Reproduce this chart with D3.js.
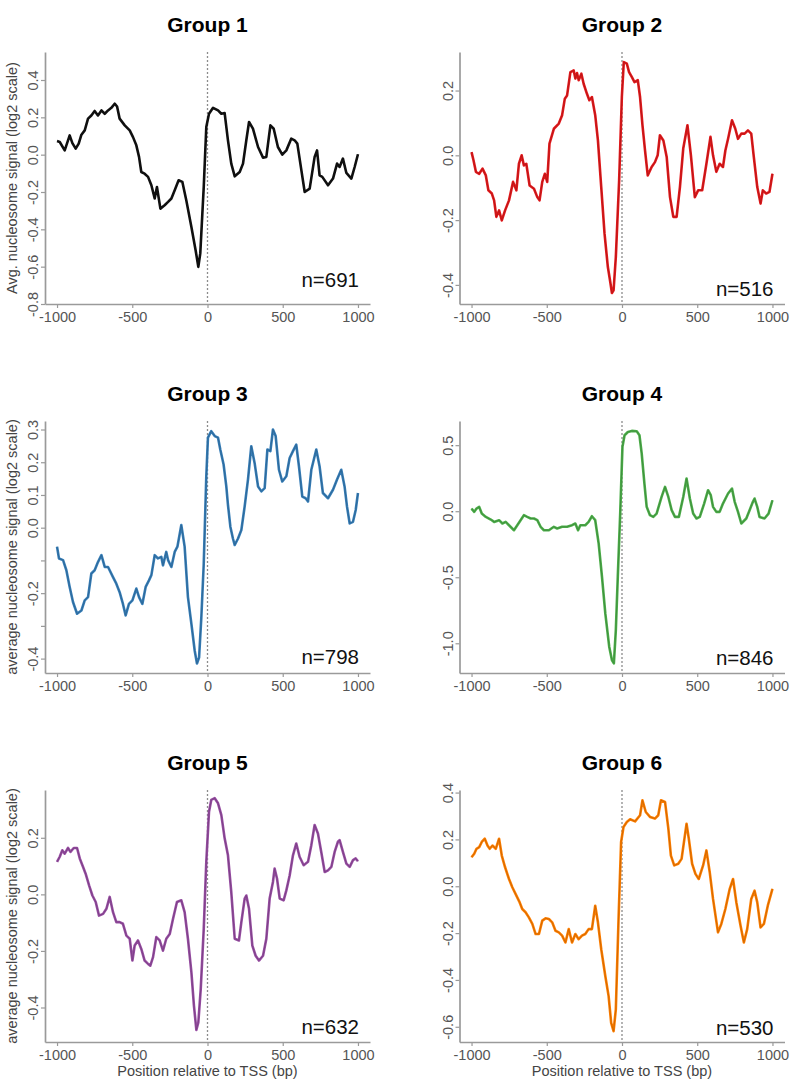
<!DOCTYPE html>
<html><head><meta charset="utf-8">
<script src="https://cdn.jsdelivr.net/npm/d3@7"></script>
<style>body{margin:0;background:#fff} svg{display:block}</style>
</head><body><svg id="c" width="812" height="1082"></svg>
<script>
// ---------------- DATA ----------------
const groupNames = ["Group 1","Group 2","Group 3","Group 4","Group 5","Group 6"];
const groupN = [691, 516, 798, 846, 632, 530];
const groupColors = ["#111111","#e41a1c","#377eb8","#4daf4a","#984ea3","#ff7f00"];
const xTicks = [-1000, -500, 0, 500, 1000];
const xDomain = [-1080, 1080];

const g1x = [-1000,-982,-949,-916,-898,-876,-856,-838,-816,-794,-772,-750,-728,-705,-683,-661,-639,-617,-601,-584,-550,-517,-495,-473,-455,-440,-418,-395,-373,-351,-336,-313,-285,-262,-240,-218,-192,-167,-141,-107,-79,-61,-48,-25,-8,10,37,70,92,114,136,158,181,214,236,258,276,302,336,369,391,418,440,468,497,524,557,579,597,624,646,679,712,728,745,763,801,834,861,878,900,923,956,978,1000];
const g1y = [0.073,0.068,0.023,0.103,0.062,0.032,0.059,0.107,0.130,0.193,0.210,0.234,0.210,0.237,0.219,0.237,0.251,0.273,0.258,0.193,0.157,0.130,0.094,0.050,-0.012,-0.093,-0.102,-0.119,-0.164,-0.235,-0.173,-0.289,-0.271,-0.253,-0.235,-0.191,-0.137,-0.146,-0.244,-0.387,-0.512,-0.601,-0.529,-0.173,0.148,0.219,0.251,0.237,0.219,0.223,0.077,-0.048,-0.116,-0.093,-0.048,0.077,0.175,0.139,0.041,-0.016,-0.012,0.157,0.139,0.041,0.000,0.023,0.086,0.077,0.059,-0.084,-0.200,-0.182,-0.012,0.023,-0.111,-0.119,-0.164,-0.128,-0.048,-0.066,-0.021,-0.098,-0.128,-0.066,0.002];

const g2x = [-1000,-987,-971,-949,-927,-905,-888,-865,-850,-835,-817,-799,-777,-751,-724,-702,-685,-667,-652,-636,-614,-585,-563,-548,-530,-513,-497,-482,-453,-420,-398,-380,-365,-343,-321,-310,-299,-288,-270,-255,-233,-217,-200,-178,-160,-138,-116,-94,-78,-67,-56,-41,-19,-1,12,32,47,65,83,105,120,136,153,171,197,219,237,252,275,297,319,341,363,385,407,435,458,484,506,533,561,588,605,627,649,671,687,705,731,753,771,793,815,837,859,876,899,921,936,958,980,1000];
const g2y = [0.010,-0.015,-0.051,-0.057,-0.041,-0.062,-0.108,-0.118,-0.139,-0.190,-0.170,-0.201,-0.170,-0.139,-0.082,-0.108,-0.026,0.000,-0.031,-0.026,-0.093,-0.103,-0.129,-0.139,-0.082,-0.057,-0.082,0.036,0.082,0.098,0.124,0.175,0.185,0.257,0.262,0.237,0.254,0.232,0.252,0.221,0.190,0.170,0.180,0.124,0.046,-0.098,-0.242,-0.345,-0.391,-0.425,-0.417,-0.314,-0.077,0.180,0.288,0.283,0.257,0.242,0.226,0.232,0.180,0.093,0.015,-0.062,-0.036,-0.021,0.000,0.062,0.046,-0.005,-0.129,-0.190,-0.190,-0.098,0.021,0.093,0.000,-0.129,-0.108,-0.108,-0.026,0.057,0.000,-0.051,-0.026,-0.036,0.015,0.051,0.108,0.082,0.051,0.067,0.067,0.077,0.067,-0.005,-0.098,-0.149,-0.108,-0.118,-0.113,-0.057];

const g3x = [-1000,-987,-960,-938,-916,-894,-867,-838,-816,-794,-772,-750,-728,-705,-683,-661,-628,-606,-584,-562,-544,-522,-499,-473,-455,-433,-411,-389,-373,-351,-329,-307,-296,-274,-262,-240,-218,-200,-174,-152,-130,-107,-85,-70,-56,-41,-25,-8,3,25,48,70,85,107,125,136,152,169,181,203,225,247,269,291,313,336,358,380,398,418,435,453,475,497,524,546,568,590,608,630,652,668,690,723,745,767,801,834,861,889,911,927,945,967,985,1000];
const g3y = [-0.058,-0.094,-0.099,-0.130,-0.181,-0.227,-0.263,-0.253,-0.222,-0.212,-0.140,-0.130,-0.105,-0.084,-0.120,-0.120,-0.151,-0.171,-0.197,-0.233,-0.268,-0.233,-0.222,-0.186,-0.212,-0.233,-0.181,-0.161,-0.145,-0.084,-0.094,-0.089,-0.115,-0.074,-0.099,-0.120,-0.074,-0.058,0.008,-0.058,-0.212,-0.294,-0.376,-0.415,-0.397,-0.274,-0.110,0.157,0.275,0.295,0.280,0.275,0.239,0.193,0.126,0.070,0.003,-0.033,-0.053,-0.033,-0.007,0.065,0.147,0.249,0.198,0.126,0.111,0.121,0.239,0.234,0.300,0.280,0.177,0.141,0.157,0.213,0.234,0.254,0.187,0.095,0.090,0.080,0.177,0.239,0.187,0.106,0.090,0.116,0.147,0.177,0.126,0.065,0.013,0.018,0.054,0.106];

const g4x = [-1000,-982,-967,-949,-932,-905,-872,-850,-817,-795,-773,-751,-718,-696,-674,-652,-630,-607,-585,-563,-541,-519,-486,-453,-431,-398,-365,-332,-310,-292,-277,-244,-222,-200,-178,-155,-133,-111,-85,-67,-54,-41,-28,-12,3,17,39,65,98,116,131,149,164,186,208,230,263,286,308,330,352,378,407,429,451,473,495,517,546,572,590,605,627,649,671,705,731,749,771,793,826,848,870,881,899,914,947,974,1000];
const g4y = [0.020,-0.005,0.020,0.033,-0.018,-0.043,-0.063,-0.081,-0.068,-0.093,-0.081,-0.106,-0.144,-0.106,-0.068,-0.030,-0.043,-0.055,-0.055,-0.068,-0.118,-0.144,-0.144,-0.118,-0.131,-0.118,-0.118,-0.106,-0.093,-0.144,-0.106,-0.106,-0.081,-0.038,-0.068,-0.245,-0.497,-0.774,-1.026,-1.127,-1.152,-0.900,-0.497,-0.018,0.487,0.575,0.600,0.608,0.605,0.575,0.436,0.209,0.033,-0.030,-0.043,-0.018,0.108,0.184,0.108,0.008,-0.043,-0.043,0.108,0.247,0.096,-0.018,-0.055,-0.043,0.058,0.159,0.121,0.033,-0.005,-0.005,0.058,0.134,0.171,0.071,-0.005,-0.093,-0.055,0.008,0.071,0.096,0.033,-0.043,-0.055,-0.018,0.083];

const g5x = [-1000,-982,-965,-949,-927,-911,-889,-867,-849,-827,-810,-787,-765,-743,-721,-694,-672,-650,-628,-606,-584,-562,-539,-517,-499,-484,-462,-440,-418,-395,-380,-362,-340,-318,-296,-274,-251,-229,-203,-174,-152,-130,-107,-90,-74,-61,-45,-25,-8,10,25,48,70,92,114,136,158,181,209,225,247,258,276,298,320,342,369,391,413,435,446,462,480,506,524,546,568,590,612,639,668,690,712,734,756,779,801,823,845,867,878,900,923,945,967,985,1000];
const g5y = [0.115,0.133,0.156,0.144,0.164,0.150,0.164,0.164,0.127,0.097,0.073,0.032,-0.004,-0.027,-0.075,-0.069,-0.051,-0.009,-0.063,-0.098,-0.098,-0.104,-0.146,-0.157,-0.234,-0.181,-0.163,-0.193,-0.234,-0.246,-0.252,-0.222,-0.151,-0.163,-0.199,-0.157,-0.140,-0.086,-0.027,-0.021,-0.063,-0.157,-0.276,-0.394,-0.479,-0.453,-0.335,-0.122,0.115,0.292,0.334,0.340,0.322,0.280,0.198,0.138,0.008,-0.157,-0.163,-0.098,-0.015,-0.004,-0.051,-0.181,-0.217,-0.234,-0.217,-0.157,-0.015,0.044,0.091,0.056,-0.015,-0.021,0.014,0.067,0.138,0.180,0.133,0.103,0.115,0.174,0.245,0.215,0.150,0.079,0.085,0.097,0.150,0.186,0.192,0.150,0.109,0.097,0.121,0.127,0.117];

const g6x = [-1000,-982,-967,-949,-932,-912,-894,-879,-861,-839,-817,-799,-777,-751,-729,-702,-680,-663,-641,-619,-596,-574,-552,-530,-508,-486,-464,-442,-420,-398,-376,-354,-332,-310,-288,-266,-244,-222,-200,-178,-160,-138,-111,-89,-72,-56,-41,-23,-6,10,32,54,87,120,136,158,186,219,241,259,286,308,325,347,374,396,418,429,444,466,488,510,539,561,583,605,638,660,687,716,738,760,788,810,832,859,881,899,921,943,969,1000];
const g6y = [0.124,0.139,0.160,0.167,0.189,0.203,0.174,0.160,0.174,0.160,0.203,0.131,0.081,0.031,-0.004,-0.040,-0.069,-0.097,-0.111,-0.133,-0.161,-0.204,-0.204,-0.147,-0.137,-0.140,-0.154,-0.190,-0.197,-0.211,-0.240,-0.183,-0.240,-0.204,-0.226,-0.211,-0.204,-0.183,-0.183,-0.083,-0.154,-0.269,-0.383,-0.469,-0.583,-0.619,-0.526,-0.140,0.189,0.253,0.274,0.286,0.277,0.303,0.367,0.317,0.296,0.289,0.303,0.367,0.360,0.246,0.131,0.089,0.096,0.117,0.217,0.267,0.203,0.096,0.053,0.031,0.089,0.153,0.060,-0.054,-0.197,-0.161,-0.097,-0.011,0.031,-0.069,-0.169,-0.240,-0.183,-0.054,-0.019,-0.069,-0.176,-0.161,-0.083,-0.011];

const seriesX = [g1x, g2x, g3x, g4x, g5x, g6x];
const seriesY = [g1y, g2y, g3y, g4y, g5y, g6y];

const yDomains = [[-0.80,0.55],[-0.459,0.319],[-0.444,0.326],[-1.225,0.683],[-0.522,0.369],[-0.665,0.411]];
const yTicks = [
  [-0.8,-0.6,-0.4,-0.2,0.0,0.2,0.4],
  [-0.4,-0.2,0.0,0.2],
  [-0.4,-0.3,-0.2,-0.1,0.0,0.1,0.2,0.3],
  [-1.0,-0.5,0.0,0.5],
  [-0.4,-0.2,0.0,0.2],
  [-0.6,-0.4,-0.2,0.0,0.2,0.4]
];
const yTickLabels = [
  ["-0.8","-0.6","-0.4","-0.2","0.0","0.2","0.4"],
  ["-0.4","-0.2","0.0","0.2"],
  ["-0.4","","-0.2","","0.0","0.1","0.2","0.3"],
  ["-1.0","-0.5","0.0","0.5"],
  ["-0.4","-0.2","0.0","0.2"],
  ["-0.6","-0.4","-0.2","0.0","0.2","0.4"]
];
const yLabels = ["Avg. nucleosome signal (log2 scale)","","average nucleosome signal (log2 scale)","","average nucleosome signal (log2 scale)",""];
const xLabels = ["","","","","Position relative to TSS (bp)","Position relative to TSS (bp)"];

// ---------------- LAYOUT / STYLE ----------------
const colLeft = [45, 459.5];
const rowTop = [52, 421, 790];
const PW = 325, PH = 252;
const nOffset = [17, 8, 9, 8, 8, 7];
const FONT = "'Liberation Sans', Arial, Helvetica, sans-serif";
const axisColor = "#9a9a9a";
const tickTextColor = "#555";

const svg = d3.select("#c");

groupNames.forEach((name, i) => {
  const col = i % 2, row = Math.floor(i / 2);
  const left = colLeft[col], top = rowTop[row];
  const x = d3.scaleLinear().domain(xDomain).range([left, left + PW]);
  const y = d3.scaleLinear().domain(yDomains[i]).range([top + PH, top]);
  const g = svg.append("g");

  // bottom axis
  const ax = g.append("g").attr("transform", `translate(0,${top + PH})`)
    .call(d3.axisBottom(x).tickValues(xTicks).tickSize(4).tickSizeOuter(0).tickFormat(d => String(d)));
  ax.select(".domain").attr("stroke", axisColor).attr("stroke-width", 1.7);
  ax.selectAll(".tick line").attr("stroke", axisColor).attr("stroke-width", 1.2);
  ax.selectAll(".tick text").attr("y", 17.5).attr("dy", null)
    .attr("fill", tickTextColor).style("font-family", FONT).style("font-size", "14.5px");

  // left axis
  const labels = yTickLabels[i];
  const ay = g.append("g").attr("transform", `translate(${left},0)`)
    .call(d3.axisLeft(y).tickValues(yTicks[i]).tickSize(4).tickSizeOuter(0)
      .tickFormat((d, k) => labels[k]));
  ay.select(".domain").attr("stroke", axisColor).attr("stroke-width", 1.7);
  ay.selectAll(".tick line").attr("stroke", axisColor).attr("stroke-width", 1.2);
  ay.selectAll(".tick text").attr("x", null).attr("dy", null)
    .attr("transform", "translate(-7,0) rotate(-90)")
    .attr("text-anchor", "middle")
    .attr("fill", tickTextColor).style("font-family", FONT).style("font-size", "14.5px");

  // zero dotted line
  g.append("line")
    .attr("x1", x(0)).attr("x2", x(0))
    .attr("y1", top).attr("y2", top + PH)
    .attr("stroke", "#8c8c8c").attr("stroke-width", 1.3)
    .attr("stroke-dasharray", "2,2");

  // series line
  const pts = seriesX[i].map((v, k) => [v, seriesY[i][k]]);
  const line = d3.line().x(d => x(d[0])).y(d => y(d[1]));
  const c = d3.color(groupColors[i]);
  g.append("path").datum(pts).attr("d", line)
    .attr("fill", "none").attr("stroke", c.formatHex()).attr("stroke-width", 2.6)
    .attr("stroke-linejoin", "round");
  g.append("path").datum(pts).attr("d", line)
    .attr("fill", "none").attr("stroke", c.darker(0.6).formatHex()).attr("stroke-width", 0.9)
    .attr("stroke-linejoin", "round");

  // title
  g.append("text").attr("x", x(0)).attr("y", top - 20)
    .attr("text-anchor", "middle").attr("fill", "#000")
    .style("font-family", FONT).style("font-size", "21px").style("font-weight", "bold")
    .text(name);

  // n label
  g.append("text").attr("x", x(1000) + 1).attr("y", top + PH - nOffset[i])
    .attr("text-anchor", "end").attr("fill", "#111")
    .style("font-family", FONT).style("font-size", "20.5px")
    .text("n=" + groupN[i]);

  // y label
  if (yLabels[i]) {
    g.append("text")
      .attr("transform", `translate(${left - 28},${top + PH / 2}) rotate(-90)`)
      .attr("text-anchor", "middle").attr("fill", "#444")
      .style("font-family", FONT).style("font-size", "14.5px")
      .text(yLabels[i]);
  }
  // x label
  if (xLabels[i]) {
    g.append("text").attr("x", x(0)).attr("y", top + PH + 34)
      .attr("text-anchor", "middle").attr("fill", "#444")
      .style("font-family", FONT).style("font-size", "14.5px")
      .text(xLabels[i]);
  }
});
</script>
</body></html>
